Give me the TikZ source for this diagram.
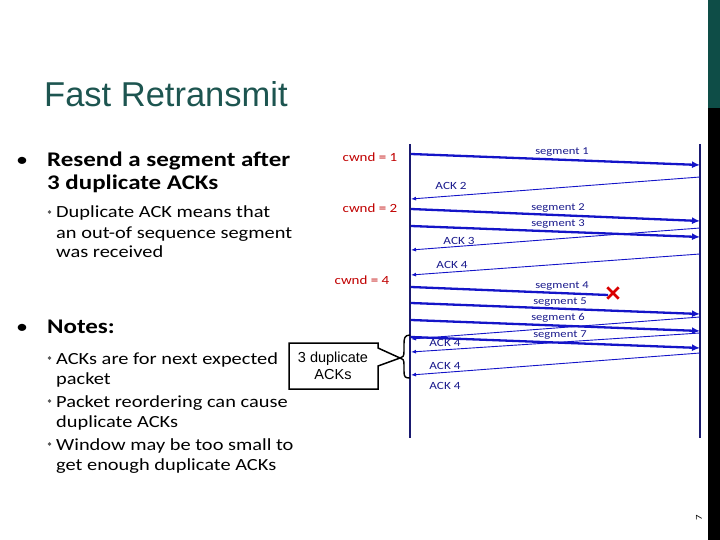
\documentclass[tikz,border=0pt]{standalone}
\usepackage{fontspec}
\setmainfont{Carlito}[FakeStretch=1.2]
\newfontfamily\arialf{Liberation Sans}
\usetikzlibrary{arrows.meta}
\definecolor{titleteal}{HTML}{1D5550}
\definecolor{stripteal}{HTML}{0E4D47}
\definecolor{arrowblue}{HTML}{1414C8}
\definecolor{labelblue}{HTML}{1A1A8C}
\definecolor{linenavy}{HTML}{1A1A70}
\definecolor{cwndred}{HTML}{C00000}
\tikzset{
  seg/.style={draw=arrowblue, line width=2.3pt, -{Latex[length=8pt,width=7pt]}},
  ack/.style={draw=arrowblue, line width=0.9pt, -{Latex[length=5pt,width=4pt]}},
  lbl/.style={text=labelblue, font=\fontsize{10.5}{12}\selectfont, inner sep=0pt},
  acklbl/.style={text=labelblue, font=\fontsize{11}{12}\selectfont, inner sep=0pt},
  cwnd/.style={text=cwndred, font=\fontsize{12.5}{14}\selectfont, inner sep=0pt},
  body/.style={anchor=base west, inner sep=0pt, align=left},
  bigfont/.style={font=\bfseries\fontsize{20.8}{23}\selectfont},
  smallfont/.style={font=\fontsize{17}{20}\selectfont},
  bul/.style={anchor=base, inner sep=0pt, font=\fontsize{20}{24}\selectfont},
  subbul/.style={inner sep=0pt, circle, fill=black!65, minimum size=3.6pt},
}
\begin{document}
\begin{tikzpicture}[x=1pt,y=-1pt]
\useasboundingbox (0,0) rectangle (720,540);
% side strip
\fill[stripteal] (708,0) rectangle (720,108);
\fill[black] (708,108) rectangle (720,540);
\node[rotate=90, inner sep=0pt, font=\fontsize{9}{10}\selectfont] (pg) at (699,518) {7};
% title
\node[body, text=titleteal, font=\arialf\fontsize{34.5}{40}\selectfont] (title) at (44,107) {Fast Retransmit};
% bullets
\node[bul] (b1) at (22,167) {•};
\node[body, bigfont] (t1) at (47,167) {Resend a segment after};
\node[body, bigfont] (t1b) at (47,190) {3 duplicate ACKs};
\node[subbul] (b2) at (49.5,212) {};
\node[body, smallfont] (t2) at (56,218) {Duplicate ACK means that};
\node[body, smallfont] (t2b) at (56,238) {an out-of sequence segment};
\node[body, smallfont] (t2c) at (56,258) {was received};
\node[bul] (b3) at (22,333) {•};
\node[body, bigfont] (t3) at (47,333) {Notes:};
\node[subbul] (b4) at (49.5,358) {};
\node[body, smallfont] (t4) at (56,364) {ACKs are for next expected};
\node[body, smallfont] (t4b) at (56,384) {packet};
\node[subbul] (b5) at (49.5,401) {};
\node[body, smallfont] (t5) at (56,407) {Packet reordering can cause};
\node[body, smallfont] (t5b) at (56,427) {duplicate ACKs};
\node[subbul] (b6) at (49.5,444) {};
\node[body, smallfont] (t6) at (56,450) {Window may be too small to};
\node[body, smallfont] (t6b) at (56,470) {get enough duplicate ACKs};
% timelines
\coordinate (Ltop) at (410,144); \coordinate (Lbot) at (410,438);
\coordinate (Rtop) at (700,144); \coordinate (Rbot) at (700,438);
\draw[linenavy, line width=1.1pt] (Ltop) -- (Lbot);
\draw[linenavy, line width=1.1pt] (Rtop) -- (Rbot);
% cwnd labels
\node[cwnd] (c1) at (370,157) {cwnd = 1};
\node[cwnd] (c2) at (370,208) {cwnd = 2};
\node[cwnd] (c4) at (362,280) {cwnd = 4};
% segment endpoints
\coordinate (s1a) at (411,154); \coordinate (s1b) at (700,165);
\coordinate (s2a) at (411,209); \coordinate (s2b) at (700,221);
\coordinate (s3a) at (411,226); \coordinate (s3b) at (700,237);
\coordinate (s4a) at (411,287); \coordinate (s4b) at (608,295);
\coordinate (s5a) at (411,303); \coordinate (s5b) at (700,314);
\coordinate (s6a) at (411,320); \coordinate (s6b) at (700,331);
\coordinate (s7a) at (411,337); \coordinate (s7b) at (700,348);
% ack endpoints
\coordinate (a2a) at (700,177); \coordinate (a2b) at (411,199);
\coordinate (a3a) at (700,228); \coordinate (a3b) at (411,250);
\coordinate (a4a) at (700,254); \coordinate (a4b) at (411,275);
\coordinate (d1a) at (700,317); \coordinate (d1b) at (411,339);
\coordinate (d2a) at (700,333); \coordinate (d2b) at (411,352);
\coordinate (d3a) at (700,353); \coordinate (d3b) at (411,375);
% acks (thin)
\draw[ack] (a2a) -- (a2b);
\draw[ack] (a3a) -- (a3b);
\draw[ack] (a4a) -- (a4b);
\draw[ack] (d1a) -- (d1b);
\draw[ack] (d2a) -- (d2b);
\draw[ack] (d3a) -- (d3b);
% segments (thick)
\draw[seg] (s1a) -- (s1b);
\draw[seg] (s2a) -- (s2b);
\draw[seg] (s3a) -- (s3b);
\draw[seg, -] (s4a) -- (s4b);
\draw[seg] (s5a) -- (s5b);
\draw[seg] (s6a) -- (s6b);
\draw[seg] (s7a) -- (s7b);
% lost mark
\node[inner sep=0pt, minimum size=11pt] (lost) at (613,293) {};
\draw[red!85!black, line width=2.6pt] (lost.north west) -- (lost.south east) (lost.north east) -- (lost.south west);
% labels
\node[lbl] (l1) at (562,152) {segment 1};
\node[lbl] (l2) at (558,208) {segment 2};
\node[lbl] (l3) at (558,224) {segment 3};
\node[lbl] (l4) at (562,286) {segment 4};
\node[lbl] (l5) at (560,302) {segment 5};
\node[lbl] (l6) at (558,318) {segment 6};
\node[lbl] (l7) at (560,335) {segment 7};
\node[acklbl] (k2) at (451,186) {ACK 2};
\node[acklbl] (k3) at (459,241) {ACK 3};
\node[acklbl] (k4) at (452,265) {ACK 4};
\node[acklbl] (k4a) at (445,343) {ACK 4};
\node[acklbl] (k4b) at (445,366) {ACK 4};
\node[acklbl] (k4c) at (445,386) {ACK 4};
% brace
\coordinate (brtop) at (410,335); \coordinate (brtip) at (400,358); \coordinate (brbot) at (410,378);
\draw[black, line width=1.4pt] (brtop) .. controls (404,335) and (404,339) .. (404,345) -- (404,351)
  .. controls (404,356) and (403,358) .. (brtip)
  .. controls (403,358) and (404,360) .. (404,365) -- (404,371)
  .. controls (404,377) and (405,378) .. (brbot);
% callout
\draw[black, line width=1.5pt, fill=white] (289,343) -- (378,343) -- (378,348) -- (brtip) -- (378,366) -- (378,389) -- (289,389) -- cycle;
\node[inner sep=0pt, align=center, font=\arialf\fontsize{14.5}{17}\selectfont] (call) at (333,366) {3 duplicate\\ACKs};
\end{tikzpicture}
\end{document}
